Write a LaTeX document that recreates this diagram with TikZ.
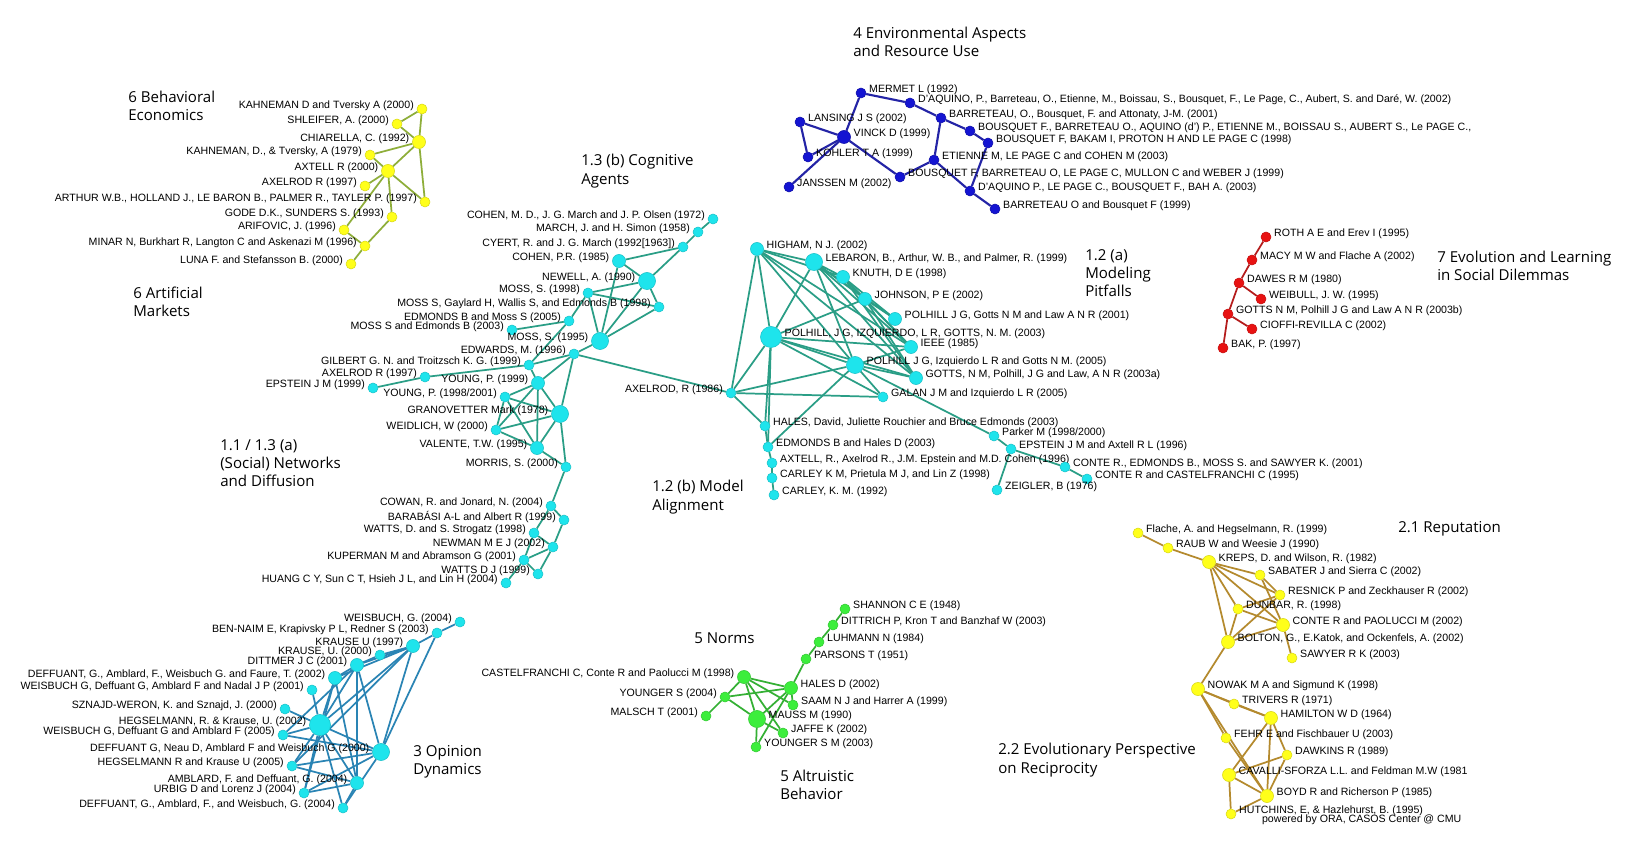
\documentclass[tikz,border=0pt]{standalone}
\usepackage{fontspec}
\setmainfont{Liberation Sans}
\newfontfamily\ttlfam{Open Sans}
\usetikzlibrary{backgrounds}
\definecolor{nodecyan}{HTML}{1EE4EC}
\definecolor{edgeteal}{HTML}{2A9E86}
\definecolor{edgesteel}{HTML}{2A84B4}
\definecolor{nodeyel}{HTML}{FFFF1A}
\definecolor{edgeolive}{HTML}{8EAE3A}
\definecolor{edgegold}{HTML}{B48A2E}
\definecolor{nodeblue}{HTML}{1414D2}
\definecolor{edgeblue}{HTML}{2424A6}
\definecolor{nodered}{HTML}{E81212}
\definecolor{edgered}{HTML}{B41C1C}
\definecolor{nodegreen}{HTML}{3CEE3C}
\definecolor{edgegreen}{HTML}{34B034}
\tikzset{nd/.style={circle,inner sep=0pt,line width=0.4pt},
  sm/.style={minimum size=7.5pt}, md/.style={minimum size=9.8pt},
  lg/.style={minimum size=12.8pt}, xl/.style={minimum size=15.8pt},
  cyn/.style={nd,sm,fill=nodecyan,draw=nodecyan!85!black},
  ylw/.style={nd,sm,fill=nodeyel,draw=nodeyel!85!black},
  blu/.style={nd,sm,fill=nodeblue,draw=nodeblue!80!black},
  rd/.style={nd,sm,fill=nodered,draw=nodered!85!black},
  grn/.style={nd,sm,fill=nodegreen,draw=nodegreen!85!black},
  lbl/.style={font=\fontsize{7.95}{9}\selectfont,inner sep=0.6pt,yshift=2.2pt},
  txl/.style={label={[lbl]180:{#1}}}, txr/.style={label={[lbl]0:{#1}}},
  ttl/.style={font=\ttlfam\fontsize{11.3}{13.7}\selectfont,align=left,anchor=west,inner sep=0pt},
  lnk/.style={line width=1.3pt}}

\begin{document}
\begin{tikzpicture}[x=0.75pt,y=-0.75pt,label distance=1.4pt]
\useasboundingbox (0,0) rectangle (1628,862);

\node[ttl] (t6be) at (128,106) {6 Behavioral\\Economics};
\node[ttl] (t6am) at (133,302) {6 Artificial\\Markets};
\node[ttl] (t13b) at (581,171) {1.3 (b) Cognitive\\Agents};
\node[ttl] (t11) at (220,463) {1.1 / 1.3 (a)\\(Social) Networks\\and Diffusion};
\node[ttl] (t4) at (853,42) {4 Environmental Aspects\\and Resource Use};
\node[ttl] (t12a) at (1085,273) {1.2 (a)\\Modeling\\Pitfalls};
\node[ttl] (t7) at (1437,266) {7 Evolution and Learning\\in Social Dilemmas};
\node[ttl] (t12b) at (652,497) {1.2 (b) Model\\Alignment};
\node[ttl] (t3) at (413,762) {3 Opinion\\Dynamics};
\node[ttl] (t5n) at (694,638) {5 Norms};
\node[ttl] (t5a) at (780,785) {5 Altruistic\\Behavior};
\node[ttl] (t21) at (1398,529) {2.1 Reputation};
\node[ttl] (t22) at (998,760) {2.2 Evolutionary Perspective\\on Reciprocity};

% 6 behavioral economics / artificial markets
\node[ylw,txl={KAHNEMAN D and Tversky A (2000)}] (be1) at (422,109) {};
\node[ylw,txl={SHLEIFER, A. (2000)}] (be2) at (397,124) {};
\node[ylw,md,txl={CHIARELLA, C. (1992)}] (be3) at (419,142) {};
\node[ylw,txl={KAHNEMAN, D., \& Tversky, A (1979)}] (be4) at (370,155) {};
\node[ylw,md,txl={AXTELL R (2000)}] (be5) at (388,171) {};
\node[ylw,txl={AXELROD R (1997)}] (be6) at (365,186) {};
\node[ylw,txl={ARTHUR W.B., HOLLAND J., LE BARON B., PALMER R., TAYLER P. (1997)}] (be7) at (425,202) {};
\node[ylw,txl={GODE D.K., SUNDERS S. (1993)}] (be8) at (392,217) {};
\node[ylw,txl={ARIFOVIC, J. (1996)}] (be9) at (344,230) {};
\node[ylw,txl={MINAR N, Burkhart R, Langton C and Askenazi M (1996)}] (be10) at (365,246) {};
\node[ylw,txl={LUNA F. and Stefansson B. (2000)}] (be11) at (351,264) {};

% 1.3 (b) cognitive agents
\node[cyn,txl={COHEN, M. D., J. G. March and J. P. Olsen (1972)}] (cg1) at (713,219) {};
\node[cyn,txl={MARCH, J. and H. Simon (1958)}] (cg2) at (698,232) {};
\node[cyn,txl={CYERT, R. and J. G. March (1992[1963])}] (cg3) at (683,247) {};
\node[cyn,md,txl={COHEN, P.R. (1985)}] (cg4) at (619,261) {};
\node[cyn,lg,txl={NEWELL, A. (1990)}] (cg5) at (647,281) {};
\node[cyn,txl={MOSS, S. (1998)}] (cg6) at (588,293) {};
\node[cyn,txl={MOSS S, Gaylard H, Wallis S, and Edmonds B (1998)}] (cg7) at (659,307) {};
\node[cyn,txl={EDMONDS B and Moss S (2005)}] (cg8) at (569,321) {};
\node[cyn,txl={MOSS S and Edmonds B (2003)}] (cg9) at (512,330) {};
\node[cyn,lg,txl={MOSS, S. (1995)}] (cg10) at (600,341) {};
\node[cyn,txl={EDWARDS, M. (1996)}] (cg11) at (574,354) {};
\node[cyn,txl={GILBERT G. N. and Troitzsch K. G. (1999)}] (cg12) at (529,365) {};
\node[cyn,txl={AXELROD R (1997)}] (cg13) at (425,377) {};
\node[cyn,txl={EPSTEIN J M (1999)}] (cg14) at (373,388) {};
\node[cyn,md,txl={YOUNG, P. (1999)}] (cg15) at (538,383) {};
\node[cyn,txl={YOUNG, P. (1998/2001)}] (cg16) at (505,397) {};

% 1.1 / 1.3 (a) networks and diffusion
\node[cyn,lg,txl={GRANOVETTER Mark (1978)}] (nw1) at (560,414) {};
\node[cyn,txl={WEIDLICH, W (2000)}] (nw2) at (496,430) {};
\node[cyn,md,txl={VALENTE, T.W. (1995)}] (nw3) at (537,448) {};
\node[cyn,txl={MORRIS, S. (2000)}] (nw4) at (566,467) {};
\node[cyn,txl={COWAN, R. and Jonard, N. (2004)}] (nw5) at (551,506) {};
\node[cyn,txl={BARABÁSI A-L and Albert R (1999)}] (nw6) at (564,520) {};
\node[cyn,txl={WATTS, D. and S. Strogatz (1998)}] (nw7) at (534,533) {};
\node[cyn,txl={NEWMAN M E J (2002)}] (nw8) at (553,547) {};
\node[cyn,txl={KUPERMAN M and Abramson G (2001)}] (nw9) at (524,560) {};
\node[cyn,txl={WATTS D J (1999)}] (nw10) at (538,574) {};
\node[cyn,txl={HUANG C Y, Sun C T, Hsieh J L, and Lin H (2004)}] (nw11) at (506,583) {};

% 3 opinion dynamics
\node[cyn,txl={WEISBUCH, G. (2004)}] (op1) at (460,622) {};
\node[cyn,txl={BEN-NAIM E, Krapivsky P L, Redner S (2003)}] (op2) at (437,633) {};
\node[cyn,md,txl={KRAUSE U (1997)}] (op3) at (413,646) {};
\node[cyn,txl={KRAUSE, U. (2000)}] (op4) at (380,655) {};
\node[cyn,md,txl={DITTMER J C (2001)}] (op5) at (357,665) {};
\node[cyn,md,txl={DEFFUANT, G., Amblard, F., Weisbuch G. and Faure, T. (2002)}] (op6) at (335,678) {};
\node[cyn,txl={WEISBUCH G, Deffuant G, Amblard F and Nadal J P (2001)}] (op7) at (312,690) {};
\node[cyn,txl={SZNAJD-WERON, K. and Sznajd, J. (2000)}] (op8) at (285,709) {};
\node[cyn,xl,txl={HEGSELMANN, R. \& Krause, U. (2002)}] (op9) at (320,725) {};
\node[cyn,txl={WEISBUCH G, Deffuant G and Amblard F (2005)}] (op10) at (283,735) {};
\node[cyn,lg,txl={DEFFUANT G, Neau D, Amblard F and Weisbuch G (2000)}] (op11) at (381,752) {};
\node[cyn,txl={HEGSELMANN R and Krause U (2005)}] (op12) at (292,766) {};
\node[cyn,md,txl={AMBLARD, F. and Deffuant, G. (2004)}] (op13) at (357,783) {};
\node[cyn,txl={URBIG D and Lorenz J (2004)}] (op14) at (304,793) {};
\node[cyn,txl={DEFFUANT, G., Amblard, F., and Weisbuch, G. (2004)}] (op15) at (343,808) {};

% 4 environmental aspects
\node[blu,txr={MERMET L (1992)}] (en1) at (861,93) {};
\node[blu,txr={D'AQUINO, P., Barreteau, O., Etienne, M., Boissau, S., Bousquet, F., Le Page, C., Aubert, S. and Daré, W. (2002)}] (en2) at (910,103) {};
\node[blu,txr={BARRETEAU, O., Bousquet, F. and Attonaty, J-M. (2001)}] (en3) at (941,118) {};
\node[blu,txr={LANSING J S (2002)}] (en4) at (800,122) {};
\node[blu,txr={BOUSQUET F., BARRETEAU O., AQUINO (d') P., ETIENNE M., BOISSAU S., AUBERT S., Le PAGE C.,}] (en5) at (970,131) {};
\node[blu,md,txr={VINCK D (1999)}] (en6) at (844,137) {};
\node[blu,txr={BOUSQUET F, BAKAM I, PROTON H AND LE PAGE C (1998)}] (en7) at (988,143) {};
\node[blu,txr={KOHLER T A (1999)}] (en8) at (808,157) {};
\node[blu,txr={ETIENNE M, LE PAGE C and COHEN M (2003)}] (en9) at (934,160) {};
\node[blu,txr={BOUSQUET F, BARRETEAU O, LE PAGE C, MULLON C and WEBER J (1999)}] (en10) at (900,177) {};
\node[blu,txr={JANSSEN M (2002)}] (en11) at (789,187) {};
\node[blu,txr={D'AQUINO P., LE PAGE C., BOUSQUET F., BAH A. (2003)}] (en12) at (970,191) {};
\node[blu,txr={BARRETEAU O and Bousquet F (1999)}] (en13) at (995,209) {};

% 1.2 (a) modeling pitfalls
\node[cyn,md,txr={HIGHAM, N J. (2002)}] (pf1) at (757,249) {};
\node[cyn,lg,txr={LEBARON, B., Arthur, W. B., and Palmer, R. (1999)}] (pf2) at (814,262) {};
\node[cyn,md,txr={KNUTH, D E (1998)}] (pf3) at (843,277) {};
\node[cyn,md,txr={JOHNSON, P E (2002)}] (pf4) at (865,299) {};
\node[cyn,md,txr={POLHILL J G, Gotts N M and Law A N R (2001)}] (pf5) at (895,319) {};
\node[cyn,xl,txr={POLHILL, J G, IZQUIERDO, L R, GOTTS, N. M. (2003)}] (pf6) at (771,337) {};
\node[cyn,md,txr={IEEE (1985)}] (pf7) at (911,347) {};
\node[cyn,lg,txr={POLHILL J G, Izquierdo L R and Gotts N M. (2005)}] (pf8) at (855,365) {};
\node[cyn,md,txr={GOTTS, N M, Polhill, J G and Law, A N R (2003a)}] (pf9) at (916,378) {};
\node[cyn,txr={GALAN J M and Izquierdo L R (2005)}] (pf10) at (883,397) {};

% 1.2 (b) model alignment
\node[cyn,txl={AXELROD, R (1986)}] (ma0) at (731,393) {};
\node[cyn,txr={HALES, David, Juliette Rouchier and Bruce Edmonds (2003)}] (ma1) at (765,426) {};
\node[cyn,txr={EDMONDS B and Hales D (2003)}] (ma2) at (768,447) {};
\node[cyn,txr={AXTELL, R., Axelrod R., J.M. Epstein and M.D. Cohen (1996)}] (ma3) at (772,463) {};
\node[cyn,txr={CARLEY K M, Prietula M J, and Lin Z (1998)}] (ma4) at (772,478) {};
\node[cyn,txr={CARLEY, K. M. (1992)}] (ma5) at (774,495) {};
\node[cyn,txr={Parker M (1998/2000)}] (ma6) at (994,436) {};
\node[cyn,txr={EPSTEIN J M and Axtell R L (1996)}] (ma7) at (1011,449) {};
\node[cyn,txr={CONTE R., EDMONDS B., MOSS S. and SAWYER K. (2001)}] (ma8) at (1065,467) {};
\node[cyn,txr={CONTE R and CASTELFRANCHI C (1995)}] (ma9) at (1087,479) {};
\node[cyn,txr={ZEIGLER, B (1976)}] (ma10) at (997,490) {};

% 7 evolution and learning
\node[rd,txr={ROTH A E and Erev I (1995)}] (ev1) at (1266,237) {};
\node[rd,txr={MACY M W and Flache A (2002)}] (ev2) at (1252,260) {};
\node[rd,txr={DAWES R M (1980)}] (ev3) at (1239,283) {};
\node[rd,txr={WEIBULL, J. W. (1995)}] (ev4) at (1261,299) {};
\node[rd,txr={GOTTS N M, Polhill J G and Law A N R (2003b)}] (ev5) at (1228,314) {};
\node[rd,txr={CIOFFI-REVILLA C (2002)}] (ev6) at (1252,329) {};
\node[rd,txr={BAK, P. (1997)}] (ev7) at (1223,348) {};

% 5 norms / altruistic behavior
\node[grn,txr={SHANNON C E (1948)}] (no1) at (845,609) {};
\node[grn,txr={DITTRICH P, Kron T and Banzhaf W (2003)}] (no2) at (833,625) {};
\node[grn,txr={LUHMANN N (1984)}] (no3) at (819,642) {};
\node[grn,txr={PARSONS T (1951)}] (no4) at (806,659) {};
\node[grn,md,txl={CASTELFRANCHI C, Conte R and Paolucci M (1998)}] (no5) at (744,677) {};
\node[grn,md,txr={HALES D (2002)}] (no6) at (791,688) {};
\node[grn,txl={YOUNGER S (2004)}] (no7) at (725,697) {};
\node[grn,txr={SAAM N J and Harrer A (1999)}] (no8) at (793,705) {};
\node[grn,txl={MALSCH T (2001)}] (no9) at (706,716) {};
\node[grn,lg,txr={MAUSS M (1990)}] (no10) at (757,719) {};
\node[grn,txr={JAFFE K (2002)}] (no11) at (783,733) {};
\node[grn,txr={YOUNGER S M (2003)}] (no12) at (756,747) {};

% 2.1 reputation
\node[ylw,txr={Flache, A. and Hegselmann, R. (1999)}] (re1) at (1138,533) {};
\node[ylw,txr={RAUB W and Weesie J (1990)}] (re2) at (1168,548) {};
\node[ylw,md,txr={KREPS, D. and Wilson, R. (1982)}] (re3) at (1209,562) {};
\node[ylw,txr={SABATER J and Sierra C (2002)}] (re4) at (1260,575) {};
\node[ylw,txr={RESNICK P and Zeckhauser R (2002)}] (re5) at (1280,595) {};
\node[ylw,txr={DUNBAR, R. (1998)}] (re6) at (1238,609) {};
\node[ylw,md,txr={CONTE R and PAOLUCCI M (2002)}] (re7) at (1283,625) {};
\node[ylw,md,txr={BOLTON, G., E.Katok, and Ockenfels, A. (2002)}] (re8) at (1228,642) {};
\node[ylw,txr={SAWYER R K (2003)}] (re9) at (1292,658) {};

% 2.2 evolutionary perspective on reciprocity
\node[ylw,md,txr={NOWAK M A and Sigmund K (1998)}] (rc1) at (1198,689) {};
\node[ylw,txr={TRIVERS R (1971)}] (rc2) at (1234,704) {};
\node[ylw,md,txr={HAMILTON W D (1964)}] (rc3) at (1271,718) {};
\node[ylw,txr={FEHR E and Fischbauer U (2003)}] (rc4) at (1226,738) {};
\node[ylw,txr={DAWKINS R (1989)}] (rc5) at (1287,755) {};
\node[ylw,md,txr={CAVALLI-SFORZA L.L. and Feldman M.W (1981}] (rc6) at (1229,775) {};
\node[ylw,md,txr={BOYD R and Richerson P (1985)}] (rc7) at (1267,796) {};
\node[ylw,txr={HUTCHINS, E, \& Hazlehurst, B. (1995)}] (rc8) at (1231,814) {};
\node[lbl,anchor=west] (ora) at (1261,823) {powered by ORA, CASOS Center @ CMU};

\begin{scope}[on background layer]
\fill[white] (0,0) rectangle (1628,862);
\foreach \a/\b in {be1/be2,be1/be3,be2/be3,be3/be4,be3/be5,be3/be7,be4/be5,be5/be6,
  be5/be7,be5/be8,be5/be9,be8/be10,be9/be10,be10/be11}
  \draw[lnk,edgeolive] (\a) -- (\b);
\foreach \a/\b in {cg1/cg2,cg2/cg3,cg3/cg5,cg3/cg4,cg4/cg5,cg4/cg10,cg6/cg5,cg6/cg7,
  cg6/cg8,cg6/cg10,cg5/cg10,cg5/cg7,cg7/cg10,cg8/cg9,cg8/cg12,cg10/cg11,cg11/cg12,
  cg11/cg15,cg11/nw1,cg11/ma0,cg12/cg13,cg13/cg14,cg12/cg15,cg15/cg16,cg15/nw1,
  cg15/nw2,cg15/nw3,cg16/nw1,cg16/nw2,cg16/nw3,nw2/nw1,nw2/nw3,nw1/nw3,nw1/nw4,
  nw3/nw4,nw4/nw5,nw5/nw6,nw5/nw7,nw6/nw8,nw7/nw8,nw7/nw9,nw8/nw9,nw8/nw10,
  nw9/nw10,nw9/nw11}
  \draw[lnk,edgeteal] (\a) -- (\b);
\foreach \a/\b in {ma0/pf1,ma0/pf6,ma0/pf8,ma0/pf10,ma0/ma1,pf1/pf2,pf1/pf3,pf1/pf6,
  pf1/pf7,pf1/pf8,pf1/pf9,pf2/pf3,pf2/pf4,pf2/pf5,pf2/pf6,pf2/pf7,pf2/pf8,pf2/pf9,
  pf3/pf4,pf3/pf5,pf3/pf7,pf3/pf9,pf4/pf5,pf4/pf6,pf4/pf7,pf4/pf9,pf6/pf7,pf6/pf8,
  pf6/pf9,pf6/pf10,pf6/ma1,pf6/ma2,pf8/pf9,pf8/pf7,pf8/pf10,pf8/ma2,pf8/ma6,
  ma1/ma2,ma2/ma3,ma3/ma4,ma4/ma5,ma6/ma7,ma7/ma8,ma8/ma9,ma7/ma10}
  \draw[lnk,edgeteal] (\a) -- (\b);
\foreach \a/\b in {op1/op2,op2/op3,op2/op11,op3/op4,op3/op5,op3/op6,op3/op9,op3/op11,
  op3/op12,op4/op5,op5/op6,op5/op9,op5/op11,op5/op13,op5/op10,op6/op9,op6/op13,
  op6/op14,op7/op9,op8/op9,op9/op10,op9/op11,op9/op12,op9/op13,op9/op14,op9/op15,
  op10/op11,op12/op11,op12/op13,op14/op11,op14/op13,op15/op11,op15/op13}
  \draw[lnk,edgesteel] (\a) -- (\b);
\foreach \a/\b in {en1/en2,en1/en6,en2/en3,en3/en5,en3/en9,en5/en7,en7/en12,en4/en6,
  en4/en8,en6/en8,en6/en11,en6/en10,en10/en9,en9/en12,en12/en13}
  \draw[line width=1.6pt,edgeblue] (\a) -- (\b);
\foreach \a/\b in {ev1/ev2,ev2/ev3,ev3/ev4,ev3/ev5,ev5/ev6,ev5/ev7}
  \draw[lnk,edgered] (\a) -- (\b);
\foreach \a/\b in {no1/no2,no2/no3,no3/no4,no4/no6,no5/no6,no5/no7,no5/no10,no5/no11,
  no5/no8,no7/no6,no7/no9,no7/no10,no6/no10,no6/no12,no6/no8,no10/no11,no10/no12}
  \draw[lnk,edgegreen] (\a) -- (\b);
\foreach \a/\b in {re1/re2,re2/re3,re3/re4,re3/re5,re3/re6,re3/re7,re3/re8,re4/re5,
  re4/re7,re5/re6,re5/re8,re6/re7,re6/re8,re7/re8,re7/re9,re8/rc1,rc1/rc2,rc1/rc3,
  rc1/rc4,rc1/rc7,rc2/rc3,rc3/rc5,rc3/rc6,rc3/rc7,rc4/rc7,rc5/rc6,rc5/rc7,rc6/rc7,
  rc6/rc8,rc7/rc8}
  \draw[lnk,edgegold] (\a) -- (\b);
\end{scope}
\end{tikzpicture}
\end{document}
